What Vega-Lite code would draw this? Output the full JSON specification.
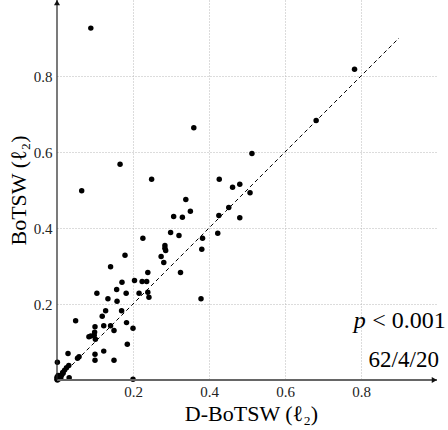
{
  "$schema": "https://vega.github.io/schema/vega-lite/v6.json",
  "width": 380,
  "height": 380,
  "autosize": "none",
  "padding": {"left": 57, "top": 0, "right": 11, "bottom": 50},
  "background": "white",
  "config": {
    "font": "Liberation Serif",
    "view": {"stroke": null}
  },
  "datasets": {
    "scores": [
      {"x": 0.089, "y": 0.926}, {"x": 0.360, "y": 0.664}, {"x": 0.166, "y": 0.568},
      {"x": 0.249, "y": 0.528}, {"x": 0.427, "y": 0.528}, {"x": 0.065, "y": 0.498},
      {"x": 0.339, "y": 0.475}, {"x": 0.351, "y": 0.444}, {"x": 0.783, "y": 0.818},
      {"x": 0.682, "y": 0.683}, {"x": 0.513, "y": 0.596}, {"x": 0.462, "y": 0.507},
      {"x": 0.481, "y": 0.515}, {"x": 0.508, "y": 0.493}, {"x": 0.452, "y": 0.454},
      {"x": 0.426, "y": 0.433}, {"x": 0.481, "y": 0.427}, {"x": 0.423, "y": 0.386},
      {"x": 0.307, "y": 0.430}, {"x": 0.330, "y": 0.428}, {"x": 0.226, "y": 0.373},
      {"x": 0.299, "y": 0.388}, {"x": 0.321, "y": 0.380}, {"x": 0.383, "y": 0.373},
      {"x": 0.381, "y": 0.344}, {"x": 0.284, "y": 0.354}, {"x": 0.284, "y": 0.347},
      {"x": 0.286, "y": 0.341}, {"x": 0.274, "y": 0.325}, {"x": 0.281, "y": 0.309},
      {"x": 0.179, "y": 0.328}, {"x": 0.325, "y": 0.283}, {"x": 0.141, "y": 0.298},
      {"x": 0.204, "y": 0.262}, {"x": 0.224, "y": 0.259}, {"x": 0.236, "y": 0.259},
      {"x": 0.239, "y": 0.283}, {"x": 0.171, "y": 0.257}, {"x": 0.157, "y": 0.238},
      {"x": 0.182, "y": 0.228}, {"x": 0.216, "y": 0.228}, {"x": 0.239, "y": 0.231},
      {"x": 0.242, "y": 0.218}, {"x": 0.105, "y": 0.228}, {"x": 0.134, "y": 0.214},
      {"x": 0.158, "y": 0.207}, {"x": 0.379, "y": 0.214}, {"x": 0.170, "y": 0.182},
      {"x": 0.128, "y": 0.182}, {"x": 0.119, "y": 0.168}, {"x": 0.183, "y": 0.151},
      {"x": 0.141, "y": 0.143}, {"x": 0.123, "y": 0.143}, {"x": 0.200, "y": 0.136},
      {"x": 0.049, "y": 0.156}, {"x": 0.100, "y": 0.140}, {"x": 0.150, "y": 0.130},
      {"x": 0.099, "y": 0.126}, {"x": 0.098, "y": 0.118}, {"x": 0.089, "y": 0.116},
      {"x": 0.084, "y": 0.114}, {"x": 0.101, "y": 0.107}, {"x": 0.185, "y": 0.094},
      {"x": 0.123, "y": 0.076}, {"x": 0.100, "y": 0.068}, {"x": 0.100, "y": 0.052},
      {"x": 0.150, "y": 0.052}, {"x": 0.029, "y": 0.070}, {"x": 0.058, "y": 0.061},
      {"x": 0.054, "y": 0.057}, {"x": 0.001, "y": 0.047}, {"x": 0.031, "y": 0.038},
      {"x": 0.025, "y": 0.032}, {"x": 0.020, "y": 0.026}, {"x": 0.016, "y": 0.018},
      {"x": 0.012, "y": 0.013}, {"x": 0.005, "y": 0.011}, {"x": 0.000, "y": 0.007},
      {"x": 0.000, "y": 0.002}, {"x": 0.032, "y": 0.006}, {"x": 0.200, "y": 0.002},
      {"x": 0.010, "y": 0.006}, {"x": 0.003, "y": 0.012}, {"x": 0.006, "y": 0.003},
      {"x": 0.015, "y": 0.020}, {"x": 0.001, "y": 0.000}
    ],
    "diagonal": [{"x": 0, "y": 0}, {"x": 0.9, "y": 0.9}],
    "xAxisLine": [{"x": 0, "x2": 1, "y": 0}],
    "yAxisLine": [{"x": 0, "y": 0, "y2": 1}],
    "arrowRight": [{"x": 0.993, "y": 0}],
    "arrowUp": [{"x": 0, "y": 0.993}],
    "pText": [{"x": 0.781, "y": 0.136, "label": "p"}],
    "ltText": [{"x": 1.023, "y": 0.136, "label": "< 0.001"}],
    "countText": [{"x": 1.005, "y": 0.034, "label": "62/4/20"}]
  },
  "layer": [
    {
      "data": {"name": "scores"},
      "mark": {"type": "circle", "size": 30, "color": "#000", "opacity": 1},
      "encoding": {
        "x": {
          "field": "x", "type": "quantitative",
          "scale": {"domain": [0, 1], "nice": false, "zero": false},
          "axis": {
            "title": "D-BoTSW (ℓ₂)", "values": [0.2, 0.4, 0.6, 0.8], "format": ".1f",
            "domain": false, "ticks": false, "grid": true,
            "gridDash": [1, 2], "gridColor": "#b8b8b8", "gridWidth": 1,
            "labelFontSize": 15, "labelPadding": 4, "labelColor": "#222",
            "titleFontSize": 22, "titleFontWeight": "normal", "titleColor": "#000",
            "titleX": 194, "titleY": 40, "titleBaseline": "alphabetic", "titleAlign": "center"
          }
        },
        "y": {
          "field": "y", "type": "quantitative",
          "scale": {"domain": [0, 1], "nice": false, "zero": false},
          "axis": {
            "title": "BoTSW (ℓ₂)", "values": [0.2, 0.4, 0.6, 0.8], "format": ".1f",
            "domain": false, "ticks": false, "grid": true,
            "gridDash": [1, 2], "gridColor": "#b8b8b8", "gridWidth": 1,
            "labelFontSize": 15, "labelPadding": 5, "labelColor": "#222",
            "titleFontSize": 22, "titleFontWeight": "normal", "titleColor": "#000",
            "titleAngle": -90, "titleX": -32, "titleY": 190,
            "titleBaseline": "alphabetic", "titleAlign": "center"
          }
        }
      }
    },
    {
      "data": {"name": "diagonal"},
      "mark": {"type": "line", "color": "#000", "strokeWidth": 1, "strokeDash": [4, 3]},
      "encoding": {
        "x": {"field": "x", "type": "quantitative"},
        "y": {"field": "y", "type": "quantitative"}
      }
    },
    {
      "data": {"name": "xAxisLine"},
      "mark": {"type": "rule", "color": "#666", "strokeWidth": 2},
      "encoding": {
        "x": {"field": "x", "type": "quantitative"},
        "x2": {"field": "x2"},
        "y": {"field": "y", "type": "quantitative"}
      }
    },
    {
      "data": {"name": "yAxisLine"},
      "mark": {"type": "rule", "color": "#222", "strokeWidth": 1.2},
      "encoding": {
        "x": {"field": "x", "type": "quantitative"},
        "y": {"field": "y", "type": "quantitative"},
        "y2": {"field": "y2"}
      }
    },
    {
      "data": {"name": "arrowRight"},
      "mark": {"type": "point", "shape": "triangle-right", "filled": true, "size": 36, "color": "#111", "opacity": 1},
      "encoding": {
        "x": {"field": "x", "type": "quantitative"},
        "y": {"field": "y", "type": "quantitative"}
      }
    },
    {
      "data": {"name": "arrowUp"},
      "mark": {"type": "point", "shape": "triangle-up", "filled": true, "size": 36, "color": "#111", "opacity": 1},
      "encoding": {
        "x": {"field": "x", "type": "quantitative"},
        "y": {"field": "y", "type": "quantitative"}
      }
    },
    {
      "data": {"name": "pText"},
      "mark": {"type": "text", "font": "Liberation Serif", "fontStyle": "italic", "fontSize": 24, "align": "left", "baseline": "alphabetic", "color": "#000"},
      "encoding": {
        "x": {"field": "x", "type": "quantitative"},
        "y": {"field": "y", "type": "quantitative"},
        "text": {"field": "label"}
      }
    },
    {
      "data": {"name": "ltText"},
      "mark": {"type": "text", "font": "Liberation Serif", "fontSize": 24, "align": "right", "baseline": "alphabetic", "color": "#000"},
      "encoding": {
        "x": {"field": "x", "type": "quantitative"},
        "y": {"field": "y", "type": "quantitative"},
        "text": {"field": "label"}
      }
    },
    {
      "data": {"name": "countText"},
      "mark": {"type": "text", "font": "Liberation Serif", "fontSize": 23, "align": "right", "baseline": "alphabetic", "color": "#000"},
      "encoding": {
        "x": {"field": "x", "type": "quantitative"},
        "y": {"field": "y", "type": "quantitative"},
        "text": {"field": "label"}
      }
    }
  ]
}
